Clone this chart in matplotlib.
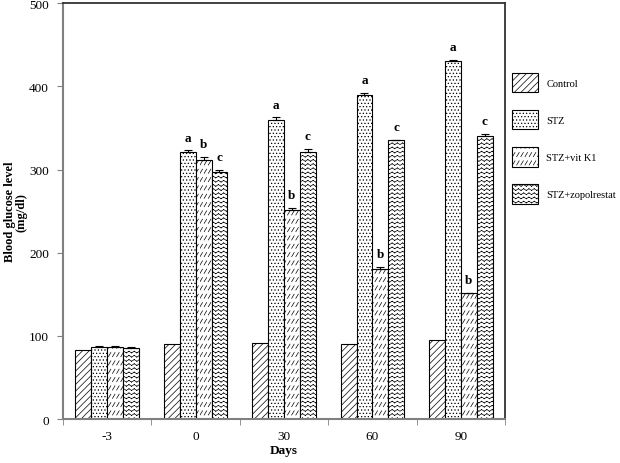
# blood glucose bar chart with hatched groups
import warnings
import numpy as np
import matplotlib
matplotlib.use('Agg')
import matplotlib.pyplot as plt
import matplotlib.hatch as mhatch
from matplotlib.path import Path

warnings.filterwarnings('ignore')

days = ['-3', '0', '30', '60', '90']
groups = ['Control', 'STZ', 'STZ+vit K1', 'STZ+zopolrestat']
control = [83, 90, 92, 90, 95]
stz = [87, 321, 360, 390, 430]
vitk1 = [87, 311, 251, 181, 151]
zopol = [85, 297, 321, 335, 340]
control_err = [0, 0, 0, 0, 0]
stz_err = [1, 2, 3, 2, 2]
vitk1_err = [1, 4, 3, 2, 1]
zopol_err = [2, 3, 4, 1, 3]
letters_stz = ['', 'a', 'a', 'a', 'a']
letters_vitk1 = ['', 'b', 'b', 'b', 'b']
letters_zopol = ['', 'c', 'c', 'c', 'c']


# custom hatches: '~' zigzag rows, 'd' rows of short slashes
# (drawn as separate 2-point segments so agg does not fill them)
class WaveHatch(mhatch.HatchPatternBase):
    def __init__(self, hatch, density):
        self.num_rows = int(hatch.count('~') * density)
        self.teeth = int(self.num_rows * 0.8)
        self.num_vertices = self.num_rows * self.teeth * 4

    def set_vertices_and_codes(self, vertices, codes):
        step = 1.0 / self.num_rows
        tw = 1.0 / self.teeth
        amp = 0.4 * step
        i = 0
        for r in range(self.num_rows):
            y0 = r * step + 0.3 * step
            for t in range(self.teeth):
                xa = t * tw
                vertices[i] = (xa, y0)
                vertices[i + 1] = (xa + tw / 2, y0 + amp)
                vertices[i + 2] = (xa + tw / 2, y0 + amp)
                vertices[i + 3] = (xa + tw, y0)
                codes[i:i + 4] = [Path.MOVETO, Path.LINETO,
                                  Path.MOVETO, Path.LINETO]
                i += 4


class DashSlashHatch(mhatch.HatchPatternBase):
    def __init__(self, hatch, density):
        n = hatch.count('d') * density
        self.num_rows = int(n)
        self.num_cols = int(n * 2)
        self.num_vertices = self.num_rows * self.num_cols * 2

    def set_vertices_and_codes(self, vertices, codes):
        rstep = 1.0 / self.num_rows
        cstep = 1.0 / self.num_cols
        i = 0
        for r in range(self.num_rows):
            for c in range(self.num_cols):
                x0 = c * cstep
                y0 = r * rstep + 0.2 * rstep
                vertices[i] = (x0, y0)
                vertices[i + 1] = (x0 + 0.6 * cstep, y0 + 0.5 * rstep)
                codes[i] = Path.MOVETO
                codes[i + 1] = Path.LINETO
                i += 2


mhatch._hatch_types.append(WaveHatch)
mhatch._hatch_types.append(DashSlashHatch)

plt.rcParams['font.family'] = ['Liberation Serif', 'DejaVu Serif']
plt.rcParams['hatch.linewidth'] = 0.5
plt.rcParams['hatch.color'] = 'black'

fig = plt.figure(figsize=(6.2, 4.64), dpi=100)
ax = fig.add_axes([0.1016, 0.0948, 0.713, 0.896])

x = np.arange(len(days))
w = 0.18
series = [(control, control_err, '/////'), (stz, stz_err, '.....'),
          (vitk1, vitk1_err, 'dd'), (zopol, zopol_err, '~~~~')]
bars = []
for k, (vals, errs, hatch) in enumerate(series):
    pos = x + (k - 1.5) * w
    b = ax.bar(pos, vals, w, color='white', edgecolor='black', linewidth=0.8,
               hatch=hatch, label=groups[k], zorder=2)
    bars.append(b)
    if k > 0:
        ax.errorbar(pos, vals, yerr=[np.zeros(len(errs)), errs], fmt='none',
                    ecolor='black', elinewidth=0.8, capsize=3, capthick=0.8,
                    zorder=3)

for k, (vals, errs, letters) in enumerate([(stz, stz_err, letters_stz),
                                           (vitk1, vitk1_err, letters_vitk1),
                                           (zopol, zopol_err, letters_zopol)]):
    pos = x + (k - 0.5) * w
    for i in range(len(days)):
        if letters[i]:
            ax.text(pos[i], vals[i] + errs[i] + 8, letters[i], ha='center',
                    va='bottom', fontsize=9.5, fontweight='bold')

ax.set_xlim(-0.5, 4.5)
ax.set_ylim(0, 500)
ax.set_yticks([0, 100, 200, 300, 400, 500])
ax.set_xticks(x)
ax.set_xticklabels(days)
ax.set_xticks(np.arange(-0.5, 5, 1), minor=True)
ax.tick_params(axis='x', which='major', length=0, pad=8, labelsize=9.5)
ax.tick_params(axis='x', which='minor', length=4, direction='out',
               color='#808080')
ax.tick_params(axis='y', length=4, direction='out', color='#808080',
               labelsize=9.5, pad=6)

for s in ['left', 'bottom']:
    ax.spines[s].set_color('#808080')
    ax.spines[s].set_linewidth(1.5)
for s in ['top', 'right']:
    ax.spines[s].set_color('#333333')
    ax.spines[s].set_linewidth(1.3)

ax.set_xlabel('Days', fontsize=9.5, fontweight='bold', labelpad=1)
ax.set_ylabel('Blood glucose level\n(mg/dl)', fontsize=9, fontweight='bold',
              labelpad=1, linespacing=1.0)

fig.legend(handles=bars, labels=groups, loc='upper left',
           bbox_to_anchor=(0.819, 0.85), frameon=False, fontsize=7.5,
           handlelength=2.5, handleheight=2.5, labelspacing=1.7,
           handletextpad=0.8, borderaxespad=0)

fig.savefig('out.png', dpi=100)
